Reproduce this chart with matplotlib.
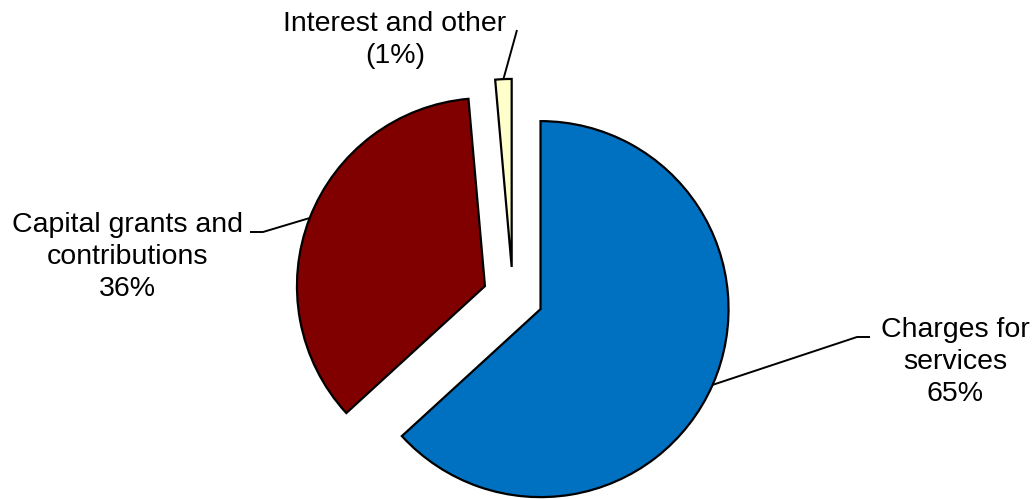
import numpy as np
import matplotlib
matplotlib.use('Agg')
import matplotlib.pyplot as plt

plt.rcParams['font.family'] = ['Liberation Sans', 'DejaVu Sans']

# data (clockwise from 12 o'clock)
categories = ["Charges for\nservices", "Capital grants and\ncontributions", "Interest and other"]
shares = [63.2, 35.4, 1.4]
label_texts = ["Charges for\nservices\n65%", "Capital grants and\ncontributions\n36%", "Interest and other\n(1%)"]
colors = ["#0070C0", "#800000", "#FFFFCC"]

W, H = 1034, 499
R_PX = 188.0   # pie radius in pixels
CX, CY = 513, 297  # pie centre in pixels (from top)

fig = plt.figure(figsize=(W / 100, H / 100), dpi=100)
ax = fig.add_axes([0, 0, 1, 1])

explode = [0.16, 0.16, 0.16]
wedges, _ = ax.pie(shares, colors=colors, explode=explode, startangle=90,
                   counterclock=False, radius=1.0,
                   wedgeprops=dict(edgecolor='black', linewidth=1.6))

ax.set_xlim(-CX / R_PX, (W - CX) / R_PX)
ax.set_ylim(-(H - CY) / R_PX, CY / R_PX)
ax.set_aspect('auto')
ax.axis('off')


def px(x, y):
    return (x - CX) / R_PX, (CY - y) / R_PX


# label text position and leader elbow points (pixels, layout only)
text_pos = [px(955, 362), px(127, 257), px(395, 40)]
elbows = [
    [px(857, 337), px(870, 337)],
    [px(263, 232), px(250, 232)],
    [px(517, 30)],
]

for w, txt, tpos, elb in zip(wedges, label_texts, text_pos, elbows):
    mid = np.deg2rad((w.theta1 + w.theta2) / 2)
    cx, cy = w.center
    ax_x = cx + w.r * np.cos(mid)
    ax_y = cy + w.r * np.sin(mid)
    xs = [ax_x] + [p[0] for p in elb]
    ys = [ax_y] + [p[1] for p in elb]
    ax.plot(xs, ys, color='black', linewidth=1.4, solid_capstyle='butt')
    ax.text(tpos[0], tpos[1], txt, ha='center', va='center', fontsize=20.5,
            linespacing=1.3, color='black')

fig.savefig('out.png', dpi=100)
